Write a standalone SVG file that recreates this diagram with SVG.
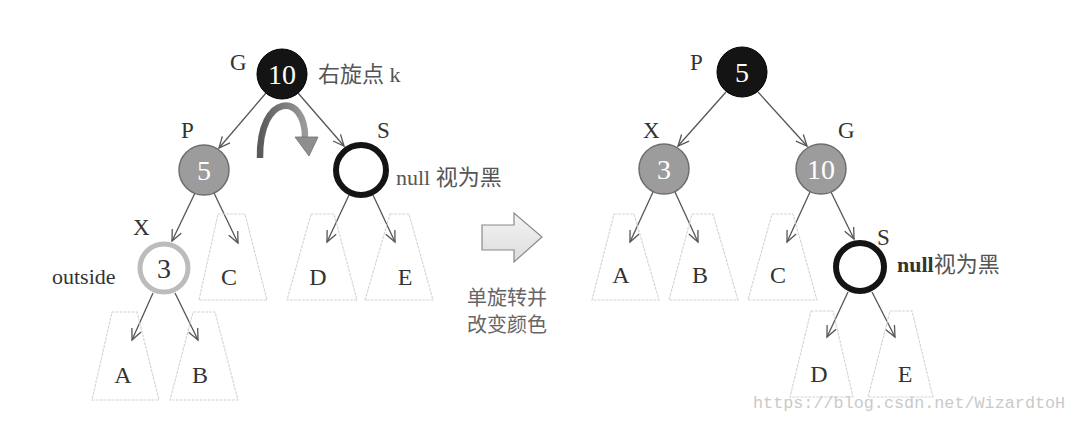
<svg xmlns="http://www.w3.org/2000/svg" width="1076" height="422" viewBox="0 0 1076 422">
<style>
.lbl{font-family:"Liberation Serif",serif;font-size:23px;fill:#333}
.tl{font-family:"Liberation Serif",serif;font-size:24px;fill:#333;text-anchor:middle}
.num{font-family:"Liberation Serif",serif;font-size:28px;fill:#fff;text-anchor:middle}
.cjk{font-family:"Liberation Serif","Noto Sans CJK SC",sans-serif;font-size:22px;fill:#555}
.dark{fill:#141414;stroke:#000;stroke-width:1}
.gray{fill:#9c9c9c;stroke:#6e6e6e;stroke-width:1.5}
.ring{fill:#fff;stroke:#141414;stroke-width:6}
.ringl{fill:#fff;stroke:#bcbcbc;stroke-width:5}
.tree{fill:none;stroke:#d6d6d6;stroke-width:1.2;stroke-dasharray:3 1}
.edge{stroke:#555;stroke-width:1.3;fill:none;marker-end:url(#ah)}
</style>
<defs>
<marker id="ah" markerUnits="userSpaceOnUse" viewBox="-12 -6 14 12" refX="0" refY="0" markerWidth="14" markerHeight="12" orient="auto">
<path d="M -11 -5 L 0 0 L -11 5" fill="none" stroke="#555" stroke-width="1.3"/>
</marker>
<linearGradient id="curv" x1="0" y1="0" x2="1" y2="0">
<stop offset="0" stop-color="#5a5a5a"/>
<stop offset="1" stop-color="#9a9a9a"/>
</linearGradient>
<linearGradient id="hol" x1="0" y1="0" x2="0" y2="1">
<stop offset="0" stop-color="#f4f4f4"/>
<stop offset="1" stop-color="#dcdcdc"/>
</linearGradient>
</defs>
<rect width="1076" height="422" fill="#fff"/>

<g id="connectors">
<line class="edge" x1="266" y1="93" x2="219" y2="148"/>
<line class="edge" x1="298" y1="93" x2="344" y2="146"/>
<line class="edge" x1="195" y1="193" x2="172" y2="241"/>
<line class="edge" x1="214" y1="193" x2="238" y2="243"/>
<line class="edge" x1="349" y1="195" x2="327" y2="242"/>
<line class="edge" x1="373" y1="195" x2="395" y2="242"/>
<line class="edge" x1="153" y1="293" x2="132" y2="340"/>
<line class="edge" x1="175" y1="293" x2="198" y2="340"/>
<line class="edge" x1="726" y1="92" x2="678" y2="146"/>
<line class="edge" x1="758" y1="92" x2="807" y2="146"/>
<line class="edge" x1="653" y1="192" x2="630" y2="242"/>
<line class="edge" x1="675" y1="192" x2="698" y2="242"/>
<line class="edge" x1="810" y1="192" x2="787" y2="242"/>
<line class="edge" x1="831" y1="192" x2="854" y2="239"/>
<line class="edge" x1="848" y1="292" x2="827" y2="337"/>
<line class="edge" x1="872" y1="292" x2="895" y2="337"/>
</g>

<g id="rotate-arrow">
<path d="M 260 158 C 259 92, 306 92, 305 138" fill="none" stroke="url(#curv)" stroke-width="6.5"/>
<polygon points="295,137 318,137 309,156" fill="#8e8e8e" stroke="#707070" stroke-width="0.8"/>
</g>

<!-- left tree -->
<g id="L-G">
<circle class="dark" cx="282" cy="74" r="25"/>
<text class="num" x="282" y="84">10</text>
<text class="lbl" x="230" y="70">G</text>
<text class="cjk" x="318" y="82">右旋点 k</text>
</g>
<g id="L-P">
<circle class="gray" cx="204" cy="170" r="25"/>
<text class="num" x="204" y="180">5</text>
<text class="lbl" x="181" y="138">P</text>
</g>
<g id="L-S">
<circle class="ring" cx="361" cy="170" r="25"/>
<text class="lbl" x="377" y="138">S</text>
<text class="cjk" x="396" y="185">null 视为黑</text>
</g>
<g id="L-X">
<circle class="ringl" cx="164" cy="268" r="24"/>
<text class="num" x="164" y="278" style="fill:#333">3</text>
<text class="lbl" x="133" y="235">X</text>
<text class="lbl" x="52" y="284" style="font-size:22px">outside</text>
</g>
<g id="L-C">
<polygon class="tree" points="218,214 245,214 267,300 199,300"/>
<text class="tl" x="229" y="285">C</text>
</g>
<g id="L-D">
<polygon class="tree" points="311,214 334,214 357,300 287,300"/>
<text class="tl" x="318" y="285">D</text>
</g>
<g id="L-E">
<polygon class="tree" points="390,214 409,214 433,300 365,300"/>
<text class="tl" x="405" y="285">E</text>
</g>
<g id="L-A">
<polygon class="tree" points="112,312 137,312 159,400 92,400"/>
<text class="tl" x="123" y="383">A</text>
</g>
<g id="L-B">
<polygon class="tree" points="193,312 215,312 238,400 170,400"/>
<text class="tl" x="200" y="383">B</text>
</g>

<!-- transform arrow -->
<g id="transform">
<polygon points="482,225 514,225 514,213 542,237 514,262 514,250 482,250" fill="url(#hol)" stroke="#8a8a8a" stroke-width="1.2"/>
<text x="467" y="305" style="font-family:'Noto Sans CJK SC',sans-serif;font-size:20px;fill:#666">单旋转并</text>
<text x="467" y="332" style="font-family:'Noto Sans CJK SC',sans-serif;font-size:20px;fill:#666">改变颜色</text>
</g>

<!-- right tree -->
<g id="R-P">
<circle class="dark" cx="742" cy="72" r="25"/>
<text class="num" x="742" y="82">5</text>
<text class="lbl" x="690" y="70">P</text>
</g>
<g id="R-X">
<circle class="gray" cx="664" cy="169" r="25"/>
<text class="num" x="664" y="179">3</text>
<text class="lbl" x="643" y="138">X</text>
</g>
<g id="R-G">
<circle class="gray" cx="821" cy="169" r="25"/>
<text class="num" x="821" y="179">10</text>
<text class="lbl" x="838" y="138">G</text>
</g>
<g id="R-S">
<circle class="ring" cx="860" cy="267" r="24"/>
<text class="lbl" x="877" y="245">S</text>
<text class="cjk" x="897" y="272"><tspan style="font-weight:bold;fill:#333">null</tspan>视为黑</text>
</g>
<g id="R-A">
<polygon class="tree" points="614,214 634,214 659,300 592,300"/>
<text class="tl" x="621" y="283">A</text>
</g>
<g id="R-B">
<polygon class="tree" points="692,214 713,214 738,300 669,300"/>
<text class="tl" x="700" y="283">B</text>
</g>
<g id="R-C">
<polygon class="tree" points="772,214 793,214 817,300 748,300"/>
<text class="tl" x="778" y="283">C</text>
</g>
<g id="R-D">
<polygon class="tree" points="811,311 833,311 853,397 790,397"/>
<text class="tl" x="819" y="382">D</text>
</g>
<g id="R-E">
<polygon class="tree" points="890,311 912,311 933,397 868,397"/>
<text class="tl" x="905" y="382">E</text>
</g>

<text x="753" y="408" style="font-family:'Liberation Mono',monospace;font-size:16.8px;fill:#cacaca">https://blog.csdn.net/WizardtoH</text>
</svg>
